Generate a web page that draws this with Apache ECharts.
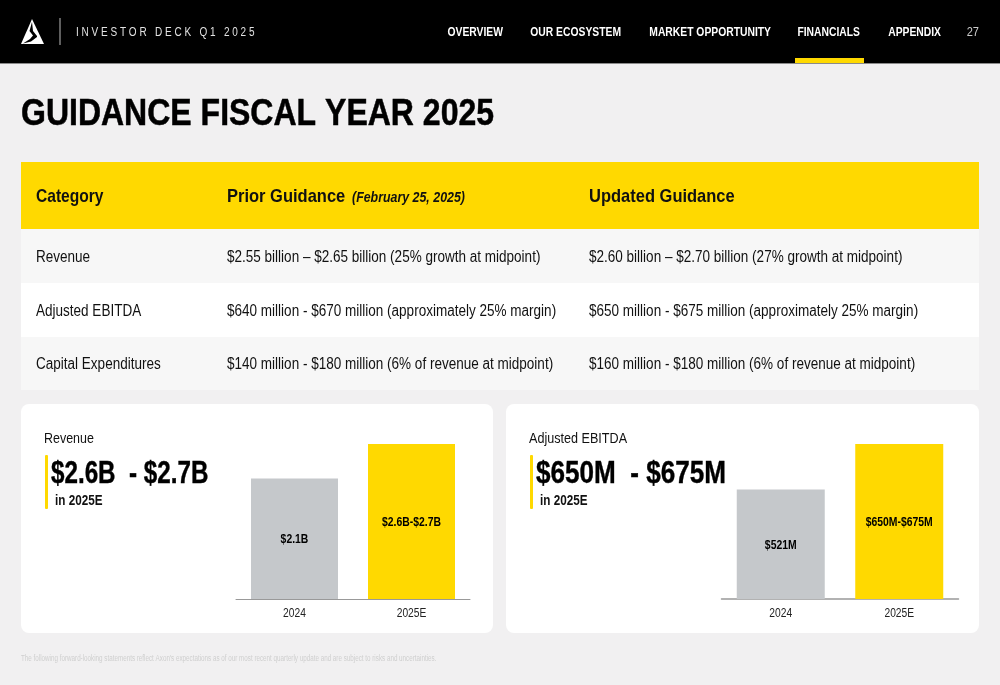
<!DOCTYPE html>
<html>
<head>
<meta charset="utf-8">
<title>Guidance Fiscal Year 2025</title>
<script src="https://cdn.jsdelivr.net/npm/echarts@6/dist/echarts.min.js"></script>
<style>
  html, body { margin: 0; padding: 0; background: #f1f0f1; }
  #chart { width: 1000px; height: 685px; }
</style>
</head>
<body>
<div id="chart"></div>
<script>
const navItems = ['OVERVIEW', 'OUR ECOSYSTEM', 'MARKET OPPORTUNITY', 'FINANCIALS', 'APPENDIX'];
const navRight = [503, 621, 771, 860, 941];
const tableHead = ['Category', 'Prior Guidance', 'Updated Guidance'];
const tableCategories = ['Revenue', 'Adjusted EBITDA', 'Capital Expenditures'];
const priorGuidance = [
  '$2.55 billion \u2013 $2.65 billion (25% growth at midpoint)',
  '$640 million - $670 million (approximately 25% margin)',
  '$140 million - $180 million (6% of revenue at midpoint)'
];
const updatedGuidance = [
  '$2.60 billion \u2013 $2.70 billion (27% growth at midpoint)',
  '$650 million - $675 million (approximately 25% margin)',
  '$160 million - $180 million (6% of revenue at midpoint)'
];
const years = ['2024', '2025E'];
const revenueValues = [2.1, 2.7];
const revenueLabels = ['$2.1B', '$2.6B-$2.7B'];
const ebitdaValues = [521, 675];
const ebitdaLabels = ['$521M', '$650M-$675M'];

const YELLOW = '#ffd900';
const GREY = '#c5c8cb';
const SANS = '"Liberation Sans", Arial, sans-serif';

// the deck uses a narrow face, so regular Liberation Sans gets squeezed with scaleX
function text(x, y, str, size, sx, opts) {
  opts = opts || {};
  const fill = opts.color || '#111';
  return {
    type: 'text', x: x, y: y, scaleX: sx, z: 10, silent: true,
    style: {
      text: str, fill: fill, fontSize: size,
      fontFamily: SANS,
      fontWeight: opts.weight || 'normal',
      fontStyle: opts.style || 'normal',
      stroke: opts.heavy ? fill : null,
      lineWidth: opts.heavy || 0,
      align: opts.align || 'left', verticalAlign: 'middle'
    }
  };
}
function rect(x, y, w, h, fill, r) {
  return { type: 'rect', z: 0, silent: true, shape: { x: x, y: y, width: w, height: h, r: r || 0 }, style: { fill: fill } };
}
function poly(points, fill) {
  return { type: 'polygon', z: 1, silent: true, shape: { points: points }, style: { fill: fill } };
}

const els = [];
// header
els.push(rect(0, 0, 1000, 63, '#000'));
els.push(rect(0, 63, 1000, 1, '#8a8a8a'));
els.push(poly([[32, 19], [44, 44], [21, 44]], '#fff'));
els.push(poly([[32, 22], [29.5, 31], [33, 35.5], [30, 39], [23, 43.5], [31, 41.5], [37, 37], [37, 36], [33, 31]], '#000'));
els.push(rect(59.5, 18, 1, 27, '#bbb'));
els.push(text(76, 32.5, 'I N V E S T O R   D E C K   Q 1   2 0 2 5', 12, 0.834, { color: '#e2e2e2' }));
navItems.forEach(function (item, i) {
  els.push(text(navRight[i], 32.5, item, 13, 0.795, { color: '#fff', weight: 'bold', align: 'right' }));
});
els.push(text(979, 32.5, '27', 13, 0.85, { color: '#ccc', align: 'right' }));
els.push(rect(795, 58, 69, 5, YELLOW));

// title
els.push(text(21, 115, 'GUIDANCE FISCAL YEAR 2025', 36, 0.889, { color: '#000', weight: 'bold', heavy: 0.5 }));

// table
els.push(rect(21, 162, 958, 67, YELLOW));
els.push(rect(21, 229, 958, 54, '#f7f7f7'));
els.push(rect(21, 283, 958, 54, '#ffffff'));
els.push(rect(21, 337, 958, 53, '#f7f7f7'));
const colX = [36, 227, 589];
const headScale = [0.82, 0.868, 0.868];
tableHead.forEach(function (h, i) {
  els.push(text(colX[i], 196.5, h, 19, headScale[i], { weight: 'bold' }));
});
els.push(text(352, 198.5, '(February 25, 2025)', 14, 0.885, { weight: 'bold', style: 'italic' }));
const rowY = [258, 312, 365];
tableCategories.forEach(function (c, i) {
  els.push(text(colX[0], rowY[i], c, 16, 0.845));
  els.push(text(colX[1], rowY[i], priorGuidance[i], 16, 0.845));
  els.push(text(colX[2], rowY[i], updatedGuidance[i], 16, 0.845));
});

// cards
els.push(rect(21, 404, 472, 229, '#fff', 8));
els.push(rect(506, 404, 473, 229, '#fff', 8));
els.push(rect(45, 455, 3, 54, YELLOW, 1));
els.push(rect(530, 455, 3, 54, YELLOW, 1));
els.push(text(44, 439.5, 'Revenue', 14, 0.89));
els.push(text(529, 439.5, 'Adjusted EBITDA', 14, 0.9));
els.push(text(51, 474.5, '$2.6B  - $2.7B', 31, 0.781, { color: '#000', weight: 'bold', heavy: 0.4 }));
els.push(text(536, 474.5, '$650M  - $675M', 31, 0.842, { color: '#000', weight: 'bold', heavy: 0.4 }));
els.push(text(55, 500.5, 'in 2025E', 15, 0.78, { weight: 'bold' }));
els.push(text(540, 500.5, 'in 2025E', 15, 0.78, { weight: 'bold' }));

// footnote
els.push(text(21, 658.5, "The following forward-looking statements reflect Axon's expectations as of our most recent quarterly update and are subject to risks and uncertainties.", 8.5, 0.738, { color: '#cfcfcf' }));

function barSeries(axisIndex, values, barWidth) {
  return {
    type: 'bar', xAxisIndex: axisIndex, yAxisIndex: axisIndex, barWidth: barWidth, z: 3,
    data: values.map(function (v, i) {
      return { value: v, itemStyle: { color: i === 0 ? GREY : YELLOW } };
    })
  };
}
// value and year labels sit on the axis scales but need the same horizontal squeeze
function labelSeries(axisIndex, values, labels, base) {
  return {
    type: 'custom', xAxisIndex: axisIndex, yAxisIndex: axisIndex, z: 4, silent: true,
    encode: { x: 0, y: 1 },
    data: values.map(function (v, i) { return [i, v]; }),
    renderItem: function (params, api) {
      const top = api.coord([api.value(0), api.value(1)]);
      const bottom = api.coord([api.value(0), base]);
      const i = params.dataIndex;
      return {
        type: 'group',
        children: [
          {
            type: 'text', x: top[0], y: (top[1] + bottom[1]) / 2 + 1, scaleX: 0.8,
            style: { text: labels[i], fill: '#000', fontSize: 13, fontWeight: 'bold', fontFamily: SANS, align: 'center', verticalAlign: 'middle' }
          },
          {
            type: 'text', x: top[0], y: bottom[1] + 15, scaleX: 0.82,
            style: { text: years[i], fill: '#222', fontSize: 12.5, fontFamily: SANS, align: 'center', verticalAlign: 'middle' }
          }
        ]
      };
    }
  };
}
function catAxis(grid, lineWidth) {
  return {
    type: 'category', gridIndex: grid, data: years,
    axisLine: { lineStyle: { color: '#999', width: lineWidth } },
    axisTick: { show: false },
    axisLabel: { show: false }
  };
}

const chart = echarts.init(document.getElementById('chart'), null, { renderer: 'canvas' });
chart.setOption({
  animation: false,
  backgroundColor: '#f1f0f1',
  graphic: { elements: els },
  grid: [
    { left: 236, width: 234, top: 444, height: 155 },
    { left: 721.5, width: 237, top: 444, height: 155 }
  ],
  xAxis: [catAxis(0, 1), catAxis(1, 1.5)],
  yAxis: [
    { type: 'value', gridIndex: 0, min: 0, max: 2.7, show: false },
    { type: 'value', gridIndex: 1, min: 150, max: 675, show: false }
  ],
  series: [
    barSeries(0, revenueValues, 87),
    barSeries(1, ebitdaValues, 88),
    labelSeries(0, revenueValues, revenueLabels, 0),
    labelSeries(1, ebitdaValues, ebitdaLabels, 150)
  ]
});
</script>
</body>
</html>
